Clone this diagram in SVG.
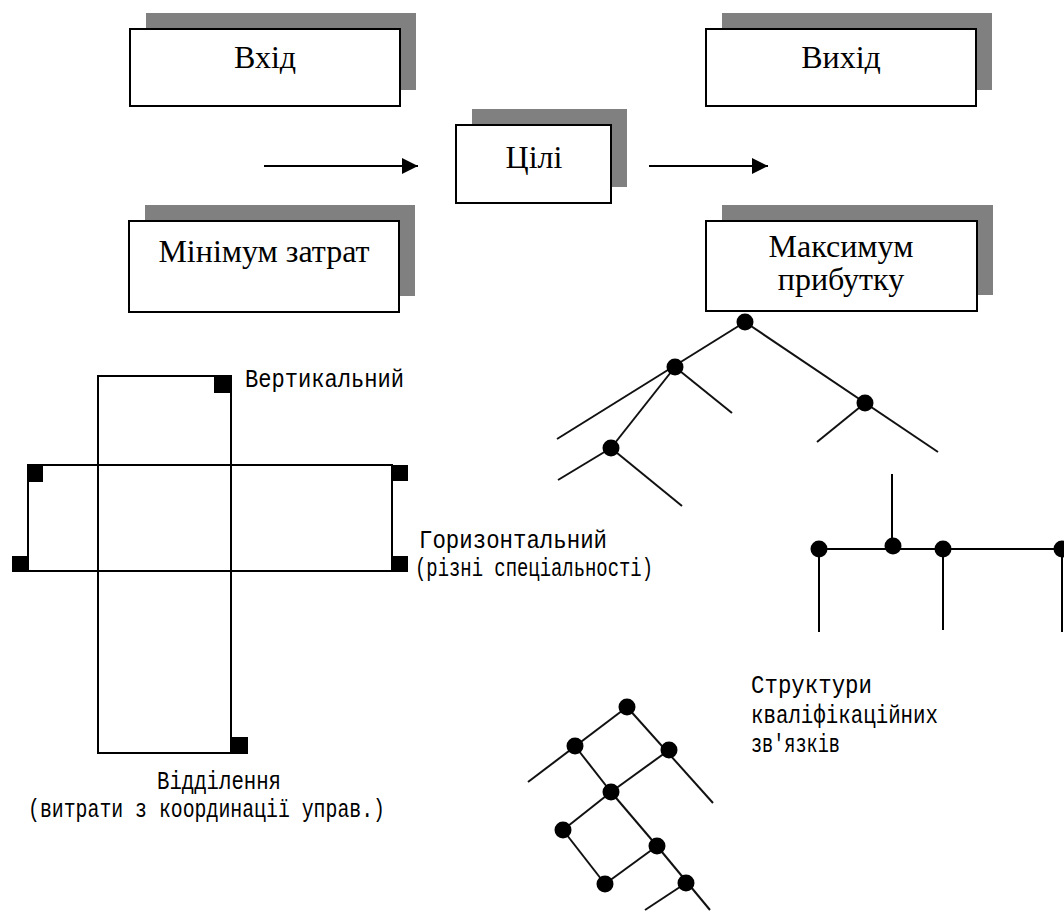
<svg xmlns="http://www.w3.org/2000/svg" width="1064" height="912" viewBox="0 0 1064 912">
<style>
.shadow{fill:#808080}
.box{fill:#fff;stroke:#000;stroke-width:2}
.t{font-family:Liberation Serif, serif;font-size:32px;fill:#000;text-anchor:middle}
.lbl{font-family:Liberation Mono, monospace;font-size:26px;fill:#000}
.ln{stroke:#000;stroke-width:2;fill:none}
.tl{stroke:#111;stroke-width:2;fill:none}
.dot{fill:#000}
.sq{fill:#000}
</style>
<defs>
<marker id="ah" viewBox="0 0 16 16" refX="16" refY="8" markerWidth="16" markerHeight="16" markerUnits="userSpaceOnUse" orient="auto">
<path d="M0,0 L16,8 L0,16 Z" fill="#000"/>
</marker>
</defs>
<rect width="1064" height="912" fill="#fff"/>

<g id="node-vkhid">
<rect class="shadow" x="146" y="13" width="270" height="77"/>
<rect class="box" x="130" y="29" width="270" height="77"/>
<text class="t" font-family="Liberation Serif" x="265" y="68">Вхід</text>
</g>
<g id="node-vykhid">
<rect class="shadow" x="722" y="13" width="270" height="77"/>
<rect class="box" x="706" y="29" width="270" height="77"/>
<text class="t" font-family="Liberation Serif" x="841" y="68">Вихід</text>
</g>
<g id="node-tsili">
<rect class="shadow" x="472" y="109" width="155" height="78"/>
<rect class="box" x="456" y="125" width="155" height="78"/>
<text class="t" font-family="Liberation Serif" x="534" y="168">Цілі</text>
</g>
<g id="node-min">
<rect class="shadow" x="145" y="205" width="270" height="91"/>
<rect class="box" x="129" y="221" width="270" height="91"/>
<text class="t" font-family="Liberation Serif" x="264" y="262">Мінімум затрат</text>
</g>
<g id="node-max">
<rect class="shadow" x="722" y="205" width="271" height="90"/>
<rect class="box" x="706" y="221" width="271" height="90"/>
<text class="t" font-family="Liberation Serif" x="841" y="257" font-size="31">Максимум</text>
<text class="t" font-family="Liberation Serif" x="841" y="290" font-size="31">прибутку</text>
</g>

<g id="connectors">
<line class="ln" x1="264" y1="166" x2="418" y2="166" marker-end="url(#ah)"/>
<line class="ln" x1="649" y1="166" x2="768" y2="166" marker-end="url(#ah)"/>
</g>

<g id="org-structure">
<rect class="ln" x="98" y="376" width="133" height="377"/>
<rect class="ln" x="28" y="465" width="364" height="106"/>
<rect class="sq" x="214" y="376" width="17" height="17"/>
<rect class="sq" x="231" y="737" width="17" height="17"/>
<rect class="sq" x="28" y="465" width="15" height="17"/>
<rect class="sq" x="12" y="556" width="17" height="16"/>
<rect class="sq" x="391" y="465" width="17" height="16"/>
<rect class="sq" x="391" y="556" width="17" height="16"/>
<text class="lbl" font-family="Liberation Mono" x="245" y="387" textLength="159" lengthAdjust="spacingAndGlyphs">Вертикальний</text>
<text class="lbl" font-family="Liberation Mono" x="419" y="548" textLength="188" lengthAdjust="spacingAndGlyphs">Горизонтальний</text>
<text class="lbl" font-family="Liberation Mono" x="415" y="576" textLength="238" lengthAdjust="spacingAndGlyphs">(різні спеціальності)</text>
<text class="lbl" font-family="Liberation Mono" x="157" y="789" textLength="124" lengthAdjust="spacingAndGlyphs">Відділення</text>
<text class="lbl" font-family="Liberation Mono" x="28" y="817" textLength="357" lengthAdjust="spacingAndGlyphs">(витрати з координації управ.)</text>
</g>

<g id="tree">
<line class="tl" x1="745" y1="322" x2="557" y2="439"/>
<line class="tl" x1="745" y1="322" x2="938" y2="452"/>
<line class="tl" x1="675" y1="367" x2="732" y2="413"/>
<line class="tl" x1="675" y1="367" x2="611" y2="448"/>
<line class="tl" x1="611" y1="448" x2="558" y2="480"/>
<line class="tl" x1="611" y1="448" x2="682" y2="506"/>
<line class="tl" x1="865" y1="403" x2="817" y2="442"/>
<circle class="dot" cx="745" cy="322" r="8.5"/>
<circle class="dot" cx="675" cy="367" r="8.5"/>
<circle class="dot" cx="865" cy="403" r="8.5"/>
<circle class="dot" cx="611" cy="448" r="8.5"/>
</g>

<g id="bus">
<line class="ln" x1="892" y1="474" x2="892" y2="548"/>
<line class="ln" x1="819" y1="549" x2="1062" y2="549"/>
<line class="ln" x1="819" y1="549" x2="819" y2="632"/>
<line class="ln" x1="943" y1="549" x2="943" y2="630"/>
<line class="ln" x1="1062" y1="549" x2="1062" y2="632"/>
<circle class="dot" cx="819" cy="549" r="8.5"/>
<circle class="dot" cx="893" cy="546" r="8.5"/>
<circle class="dot" cx="943" cy="549" r="8.5"/>
<circle class="dot" cx="1062" cy="549" r="8.5"/>
</g>

<g id="lattice">
<line class="tl" x1="627" y1="707" x2="528" y2="782"/>
<line class="tl" x1="627" y1="707" x2="713" y2="803"/>
<line class="tl" x1="575" y1="746" x2="611" y2="792"/>
<line class="tl" x1="669" y1="750" x2="611" y2="792"/>
<line class="tl" x1="611" y1="792" x2="563" y2="830"/>
<line class="tl" x1="611" y1="792" x2="657" y2="846"/>
<line class="tl" x1="563" y1="830" x2="605" y2="884"/>
<line class="tl" x1="657" y1="846" x2="605" y2="884"/>
<line class="tl" x1="657" y1="846" x2="710" y2="910"/>
<line class="tl" x1="686" y1="883" x2="645" y2="910"/>
<circle class="dot" cx="627" cy="707" r="8.5"/>
<circle class="dot" cx="575" cy="746" r="8.5"/>
<circle class="dot" cx="669" cy="750" r="8.5"/>
<circle class="dot" cx="611" cy="792" r="8.5"/>
<circle class="dot" cx="563" cy="830" r="8.5"/>
<circle class="dot" cx="657" cy="846" r="8.5"/>
<circle class="dot" cx="605" cy="884" r="8.5"/>
<circle class="dot" cx="686" cy="883" r="8.5"/>
<text class="lbl" font-family="Liberation Mono" x="751" y="693" textLength="121" lengthAdjust="spacingAndGlyphs">Структури</text>
<text class="lbl" font-family="Liberation Mono" x="751" y="723" textLength="187" lengthAdjust="spacingAndGlyphs">кваліфікаційних</text>
<text class="lbl" font-family="Liberation Mono" x="751" y="752" textLength="89" lengthAdjust="spacingAndGlyphs">зв'язків</text>
</g>
</svg>
